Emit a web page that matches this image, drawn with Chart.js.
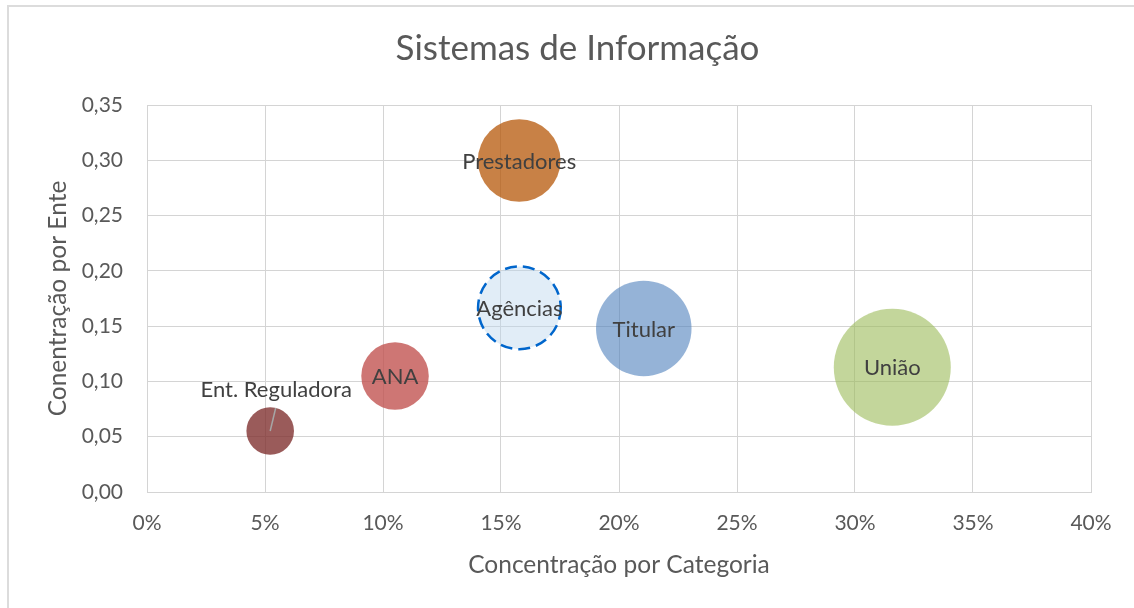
<!DOCTYPE html>
<html>
<head>
<meta charset="utf-8">
<script src="https://cdn.jsdelivr.net/npm/chart.js@4"></script>
<style>
  html, body { margin: 0; padding: 0; background: #fff; overflow: hidden; }
  #frame { position: absolute; left: 7px; top: 5px; width: 1200px; height: 700px; border: 2px solid #dcdcdc; }
  #wrap { position: absolute; left: 0; top: 0; width: 1134px; height: 608px; }
</style>
</head>
<body>
<div id="frame"></div>
<div id="wrap"><canvas id="chart" width="1134" height="608"></canvas></div>
<script>
const names = ['Ent. Reguladora', 'ANA', 'Prestadores', 'Agências', 'Titular', 'União'];
const catShare = [0.0522, 0.1051, 0.1577, 0.1578, 0.2105, 0.3158];   // Concentração por Categoria
const entShare = [0.0552, 0.1049, 0.2998, 0.1666, 0.1479, 0.1128];   // Concentração por Ente
const bubbleSize = [0.0522, 0.1051, 0.1577, 0.1578, 0.2105, 0.3158];
const xTicks = [0, 0.05, 0.10, 0.15, 0.20, 0.25, 0.30, 0.35, 0.40];
const yTicks = [0, 0.05, 0.10, 0.15, 0.20, 0.25, 0.30, 0.35];

const fills = [
  'rgba(125,45,43,0.78)',
  'rgba(192,80,77,0.78)',
  'rgba(182,87,8,0.75)',
  'rgba(189,215,238,0.45)',
  'rgba(79,129,189,0.6)',
  'rgba(155,187,89,0.6)'
];
const FONT = 'Lato';
const MAX_R = 58.5;
const maxSize = Math.max(...bubbleSize);

const datasets = names.map((name, i) => ({
  label: name,
  data: [{ x: catShare[i], y: entShare[i], s: bubbleSize[i] }],
  backgroundColor: fills[i],
  borderColor: name === 'Agências' ? '#0066cc' : fills[i],
  borderWidth: name === 'Agências' ? 2.5 : 0,
  radius: ctx => MAX_R * Math.sqrt(ctx.raw.s / maxSize),
  hoverRadius: 0
}));

// dashed outline for Agências + bubble labels
const bubbleLabels = {
  id: 'bubbleLabels',
  beforeDatasetDraw(chart, args) {
    if (names[args.index] === 'Agências') {
      chart.ctx.save();
      chart.ctx.setLineDash([12, 6]);
    }
  },
  afterDatasetDraw(chart, args) {
    if (names[args.index] === 'Agências') chart.ctx.restore();
  },
  afterDatasetsDraw(chart) {
    const ctx = chart.ctx;
    ctx.save();
    ctx.font = '22px ' + FONT;
    ctx.fillStyle = '#404040';
    ctx.textAlign = 'center';
    ctx.textBaseline = 'middle';
    chart.data.datasets.forEach((ds, i) => {
      const el = chart.getDatasetMeta(i).data[0];
      if (ds.label === 'Ent. Reguladora') {
        ctx.strokeStyle = '#a6a6a6';
        ctx.lineWidth = 1.5;
        ctx.beginPath();
        ctx.moveTo(el.x, el.y);
        ctx.lineTo(el.x + 5.5, el.y - 23);
        ctx.stroke();
        ctx.fillText(ds.label, el.x + 6, el.y - 41);
      } else {
        ctx.fillText(ds.label, el.x, el.y + 1);
      }
    });
    ctx.restore();
  }
};

const fmtY = v => v.toFixed(2).replace('.', ',');
const fmtX = v => Math.round(v * 100) + '%';

new Chart(document.getElementById('chart'), {
  type: 'bubble',
  data: { datasets },
  options: {
    responsive: false,
    animation: false,
    events: [],
    layout: { autoPadding: false, padding: { left: 64, right: 43, top: 0, bottom: 0 } },
    plugins: {
      legend: { display: false },
      tooltip: { enabled: false },
      title: {
        display: true,
        text: 'Sistemas de Informação',
        color: '#595959',
        font: { family: FONT, size: 35, weight: 'normal' },
        padding: { top: 28, bottom: 35 }
      }
    },
    scales: {
      x: {
        type: 'linear',
        min: 0, max: 0.4,
        afterBuildTicks: s => { s.ticks = xTicks.map(v => ({ value: v })); },
        afterFit: s => { s.height = 116; s.paddingRight = 0; s.paddingLeft = 0; },
        grid: { color: '#d4d4d4', drawTicks: false },
        border: { color: '#d4d4d4' },
        ticks: {
          padding: 19,
          color: '#595959',
          font: { family: FONT, size: 21 },
          callback: v => fmtX(v)
        },
        title: {
          display: true,
          text: 'Concentração por Categoria',
          color: '#595959',
          font: { family: FONT, size: 24.5 },
          padding: { top: 0, bottom: 28 }
        }
      },
      y: {
        type: 'linear',
        min: 0, max: 0.35,
        afterBuildTicks: s => { s.ticks = yTicks.map(v => ({ value: v })); },
        afterFit: s => { s.width = 83; },
        grid: { color: '#d4d4d4', drawTicks: false },
        border: { color: '#d4d4d4' },
        ticks: {
          padding: 24,
          color: '#595959',
          font: { family: FONT, size: 21 },
          callback: v => fmtY(v)
        },
        title: {
          display: true,
          text: 'Conentração por Ente',
          color: '#595959',
          font: { family: FONT, size: 24.5 },
          padding: { top: -21, bottom: 0 }
        }
      }
    }
  },
  plugins: [bubbleLabels]
});
</script>
</body>
</html>
